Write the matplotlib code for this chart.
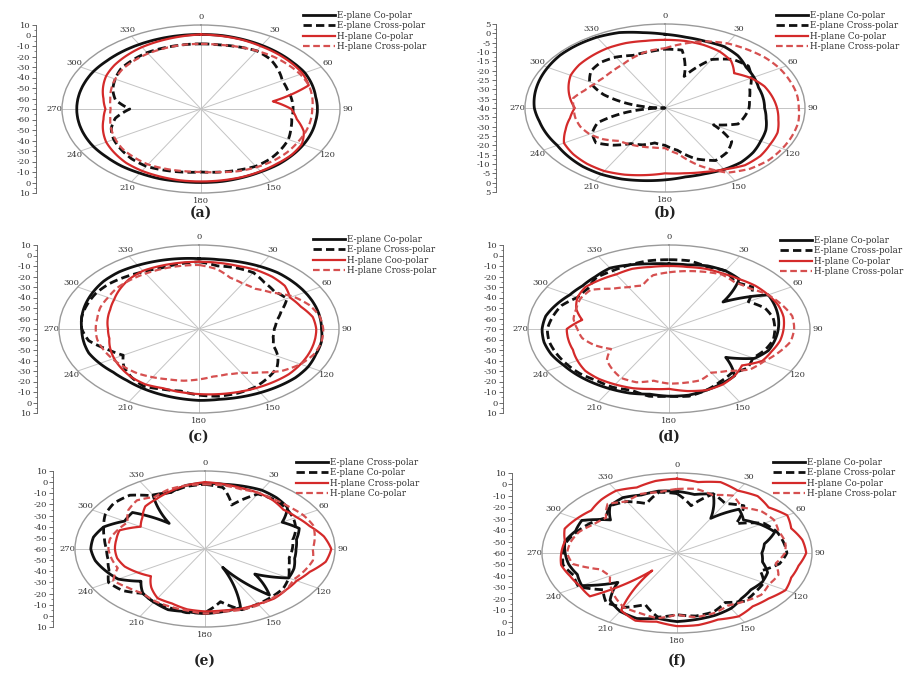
import numpy as np
import matplotlib
matplotlib.use("Agg")
import matplotlib.pyplot as plt

plt.rcParams['font.family'] = ['DejaVu Serif']

ANGLES = [0, 10, 20, 30, 40, 50, 60, 70, 80, 90, 100, 110, 120, 130, 140, 150, 160, 170,
          180, 190, 200, 210, 220, 230, 240, 250, 260, 270, 280, 290, 300, 310, 320, 330, 340, 350]
TICK_ANGLES = [0, 30, 60, 90, 120, 150, 180, 210, 240, 270, 300, 330]

# ---- panel (a) ----
a_e_co = [1, 1, 0.5, 0, -0.5, -1, -1, -2, -3, -3, -3, -2.5, -2, -1.5, -1, -1, -0.5, 0, 0, 0, 0.5, 0.5,
          1, 1, 1.5, 1.5, 1.5, 1.5, 1.5, 1.5, 1.5, 1, 1, 1, 1, 1]
a_e_cross = [-8, -8, -7, -6, -8, -12, -16, -17, -17, -17, -17, -15, -12, -10, -8, -7, -8, -9, -10, -9,
             -8, -7, -8, -10, -12, -15, -20, -29, -20, -16, -13, -10, -9, -8, -8, -8]
a_h_co = [1, 0.5, 0, -1, -1.5, -2, -2.5, -4, -28, -18, -14, -7, -3, -2, -2, -1.5, -1, -1, -1, -1, -1.5,
          -2, -3, -5, -7, -10, -13, -15, -13, -10, -7, -5, -3.5, -2, -1, 0]
a_h_cross = [-8, -8, -7, -6, -5, -4.5, -4, -4, -5, -6, -6, -6, -6, -5.5, -5.5, -6, -7, -9, -10, -10,
             -9.5, -9, -10, -11, -13, -15, -17, -18, -17, -15, -13, -11, -10, -9, -8.5, -8]

# ---- panel (b) ----
b_e_co = [-0.5, -1.5, -2, -2, -3.5, -6, -7, -8, -8, -8, -7, -5.5, -4.5, -3, -2, -2, -2.5, -2.5, -1.5,
          -0.5, 0.5, 1, 1, 0.5, 0, 0.5, 1, 2, 2.5, 3, 3.5, 4, 4, 3.8, 3, 1]
b_e_cross = [-8.5, -8.5, -22, -10, -6, -5, -8, -11, -12.5, -13, -14, -15, -22, -12, -9, -7.5, -11, -17,
             -20, -21, -19, -18, -14, -11, -13, -17, -28, -40, -29, -19, -12, -9, -8, -8.5, -10, -9.5]
b_h_co = [-3.5, -3.5, -4, -5, -7, -11, -8, -6, -5, -4, -3, -1.5, -1, 0, 0, -2, -3.5, -4.5, -5, -3.5, -2,
          -1, -1, -1.5, -2.5, -6, -9, -11, -9, -7, -5, -4, -3.5, -3, -3, -3.5]
b_h_cross = [-8, -5, -2, 0, 1, 2, 2.5, 2.7, 3, 3, 3.5, 3.5, 3.5, 3.5, 2.5, 0, -7, -15, -18.5, -18.5,
             -18, -17.5, -17, -14, -12, -11, -10.7, -10.7, -10, -12.5, -14, -14.5, -14, -13, -11, -9]

# ---- panel (c) ----
c_e_co = [-3, -3, -2, -1, 0, 0, 0, 0, 0, 0, 1, 1, 2, 2, 1, 0, -1, -2, -2, -3, -4, -5, -6, -6, -4.5, -3,
          -3, -3, -2, -1, 0, 1, 1, 0, -1, -2]
c_e_cross = [-6, -9, -8, -8, -12, -14, -12, -20, -25, -27, -27, -25, -18, -12, -9, -6, -5, -5, -7, -10,
             -9, -7, -10, -14, -20, -14, -6, -3, -2, -2, -2, -3, -5, -7, -8, -7]
c_h_co = [-6, -6, -6, -5, -5, -6, -10, -8, -4, -3, -3, -3, -3, -3, -4, -5, -6, -7, -8, -9, -10, -9, -10,
          -12, -14, -16, -18, -18, -17, -16, -14, -11, -8, -6, -6, -6]
c_h_cross = [-9, -12, -18, -20, -20, -16, -8, -3, 0, 1, 1, 0, -3, -8, -16, -22, -24, -24, -22, -20, -19,
             -17, -15, -14, -13, -12, -11, -11, -11, -10, -10, -9, -9, -9, -9, -9]

# ---- panel (d) ----
d_e_co = [-8, -8, -6, -6, -8, -30, -5, -6, -7, -8, -9, -10, -14, -28, -12, -10, -8, -6, -6, -7, -5, -4,
          -3, -2, -1, 1, 2, 2, 1, -2, -5, -6, -5, -3, -5, -7]
d_e_cross = [-4, -4, -7, -6, -12, -8, -18, -12, -10, -10, -10, -12, -15, -12, -15, -12, -8, -5, -6, -5,
             -8, -6, -6, -4, -3, -2, -1, -1, -3, -5, -10, -10, -6, -6, -5, -4]
d_h_co = [-10, -10, -9, -9, -8, -6, -5, -4, -4, -5, -6, -8, -9, -16, -12, -9, -8, -10, -13, -12, -10, -9,
          -8, -8, -10, -12, -12, -12, -20, -14, -10, -8, -9, -10, -9, -10]
d_h_cross = [-16, -14, -12, -10, -12, -10, -5, -2, 1, 1, 0, -4, -8, -10, -18, -22, -18, -18, -18, -20,
             -16, -16, -20, -24, -32, -25, -20, -18, -15, -14, -12, -12, -20, -24, -26, -18]

# ---- panel (e) ----
e_e_cross = [-1, -1, 0, 1, 0, -2, -12, -6, -10, -11, -11, -9, -8, -25, -6, -41, -4, -3, -2, -3, -2, -5,
             -8, -15, -6, -3, 0, 1.5, 1, -2, -10, -9, -30, -4, -6, -2]
e_e_co = [-2, -4, -18, -3, -2, -3, -5, -8, -12, -13, -14, -12, -8, -5, -4, -3, -2, -12, -3, -2, -4, -5,
          -8, -2, 0, -5, -7, -7, -5, -2, 2, 4, 3, -5, -6, -3]
e_h_cross = [0, -1, -2, -2, -3, -5, -3, 0, 5, 8, 6, 0, -3, -3, -2, -3, -3, -4, -4, -5, -8, -9, -15,
             -22, -18, -14, -12, -11.5, -11.5, -11, -20, -16, -10, -8, -5, -2]
e_h_co = [-2, -2, -3, -2, -2, -1, 1, 2, 0, -2, -1, -3, -5, -3, -3, -2, -2, -3, -2, -4, -5, -6, -8, -6,
          -3, -10, -9, -8, -8, -10, -12, -6, -3, -6, -3, -2]

# ---- panel (f) ----
f_e_co = [-6, -8, -5, -25, -10, -15, -10, -6, -14, -16, -15, -10, -9, -10, -8, -4, -2, -1, 0, -2, 1, -1,
          -6, -20, -3, -5, -3, -2, -1, -4, -3, -15, -6, -4, -6, -5]
f_e_cross = [-8, -18, -5, -10, -6, -20, -8, -5, -4, -3, -6, -14, -8, -7, -5, -10, -5, -4, -6, -3, -12,
             -5, -3, -10, -1, -3, 0, -1, -2, -5, -8, -12, -6, -8, -14, -6]
f_h_co = [5, 3, 6, 3, 5, 2, 6, 3, 6, 7, 4, 3, 5, 2, 1, 4, 2, 4, 4, 1, 3, -2, -40, -1, -2, -1, 1, 0, -1,
          2, 0, -2, 1, 3, 1, 4]
f_h_cross = [-4, -3, -6, -2, -8, -3, -2, -4, -3, -4, -8, -4, -5, -3, -5, -7, -4, -3, -6, -2, -4, -5,
             -10, -15, -20, -18, -5, -3, -4, -6, -10, -12, -4, -8, -5, -6]

LEG_STD = ["E-plane Co-polar", "E-plane Cross-polar", "H-plane Co-polar", "H-plane Cross-polar"]
LEG_C = ["E-plane Co-polar", "E-plane Cross-polar", "H-plane Coo-polar", "H-plane Cross-polar"]
LEG_E = ["E-plane Cross-polar", "E-plane Co-polar", "H-plane Cross-polar", "H-plane Co-polar"]

# ---- layout ----
W, H = 907, 673
fig = plt.figure(figsize=(W / 100, H / 100), dpi=100)

STYLES = [
    dict(color='#111111', lw=2.0, ls='-'),
    dict(color='#111111', lw=2.0, ls=(0, (3, 1.5))),
    dict(color='#d42a2a', lw=1.6, ls='-'),
    dict(color='#d65050', lw=1.6, ls=(0, (3, 1.6))),
]

PANELS = [
    dict(tag='(a)', cx=201, cy=109, rx=139, ry=84, axx=36, lx=303, ly=11, laby=213,
         rmin=-70, rmax=10, step=10, curves=[a_e_co, a_e_cross, a_h_co, a_h_cross], leg=LEG_STD),
    dict(tag='(b)', cx=665, cy=108, rx=140, ry=84, axx=496, lx=776, ly=11, laby=213,
         rmin=-40, rmax=5, step=5, curves=[b_e_co, b_e_cross, b_h_co, b_h_cross], leg=LEG_STD),
    dict(tag='(c)', cx=199, cy=329, rx=140, ry=84, axx=37, lx=313, ly=235, laby=437,
         rmin=-70, rmax=10, step=10, curves=[c_e_co, c_e_cross, c_h_co, c_h_cross], leg=LEG_C),
    dict(tag='(d)', cx=669, cy=329, rx=141, ry=84, axx=503, lx=780, ly=236, laby=437,
         rmin=-70, rmax=10, step=10, curves=[d_e_co, d_e_cross, d_h_co, d_h_cross], leg=LEG_STD),
    dict(tag='(e)', cx=205, cy=549, rx=130, ry=78, axx=53, lx=296, ly=458, laby=661,
         rmin=-60, rmax=10, step=10, curves=[e_e_cross, e_e_co, e_h_cross, e_h_co], leg=LEG_E),
    dict(tag='(f)', cx=677, cy=553, rx=135, ry=80, axx=512, lx=773, ly=458, laby=661,
         rmin=-60, rmax=10, step=10, curves=[f_e_co, f_e_cross, f_h_co, f_h_cross], leg=LEG_STD),
]

TXT = '#333333'
theta = np.deg2rad(ANGLES + [360])

for p in PANELS:
    cx, cy, rx, ry = p['cx'], p['cy'], p['rx'], p['ry']
    ax = fig.add_axes([(cx - rx) / W, 1 - (cy + ry) / H, 2 * rx / W, 2 * ry / H], projection='polar')
    ax.set_aspect('auto')
    ax.set_theta_zero_location('N')
    ax.set_theta_direction(-1)
    ax.set_ylim(p['rmin'], p['rmax'])
    ax.set_yticks([])
    ax.set_xticks(np.deg2rad(TICK_ANGLES))
    ax.set_xticklabels([str(t) for t in TICK_ANGLES], fontsize=6, color=TXT)
    ax.tick_params(axis='x', pad=-4, length=2.5, color='#777777')
    ax.xaxis.grid(True, color='#c4c4c4', lw=0.7)
    ax.spines['polar'].set_color('#9a9a9a')
    ax.spines['polar'].set_linewidth(1.0)
    ax.set_facecolor('none')
    handles = []
    for vals, st, lab in zip(p['curves'], STYLES, p['leg']):
        ln, = ax.plot(theta, list(vals) + [vals[0]], label=lab, **st)
        ln.get_path()._interpolation_steps = 16
        handles.append(ln)
    ax.legend(handles=handles, loc='upper left', bbox_to_anchor=(p['lx'] / W, 1 - p['ly'] / H),
              bbox_transform=fig.transFigure, frameon=False, fontsize=6.3, handlelength=3.6,
              handletextpad=0.3, labelspacing=0.15, borderpad=0, borderaxespad=0,
              labelcolor=TXT)

    # left dB scale
    lax = fig.add_axes([p['axx'] / W, 1 - (cy + ry) / H, 0.0005, 2 * ry / H])
    span = p['rmax'] - p['rmin']
    lax.set_ylim(-span, span)
    ticks = list(range(-span, span + 1, p['step']))
    lax.set_yticks(ticks)
    lax.set_yticklabels([str(p['rmin'] + abs(t)) for t in ticks], fontsize=6, color=TXT)
    minors = [t + p['step'] / 2 for t in ticks[:-1]]
    lax.set_yticks(minors, minor=True)
    lax.tick_params(axis='y', which='major', length=3, width=0.6, pad=1, color='#555555')
    lax.tick_params(axis='y', which='minor', length=1.5, width=0.5, color='#555555')
    lax.set_xticks([])
    for s in ['top', 'right', 'bottom']:
        lax.spines[s].set_visible(False)
    lax.spines['left'].set_color('#555555')
    lax.spines['left'].set_linewidth(0.6)
    lax.set_facecolor('none')

    fig.text(cx / W, 1 - p['laby'] / H, p['tag'], ha='center', va='center',
             fontsize=10, fontweight='bold', color='#222222')

fig.savefig('out.png', dpi=100)
